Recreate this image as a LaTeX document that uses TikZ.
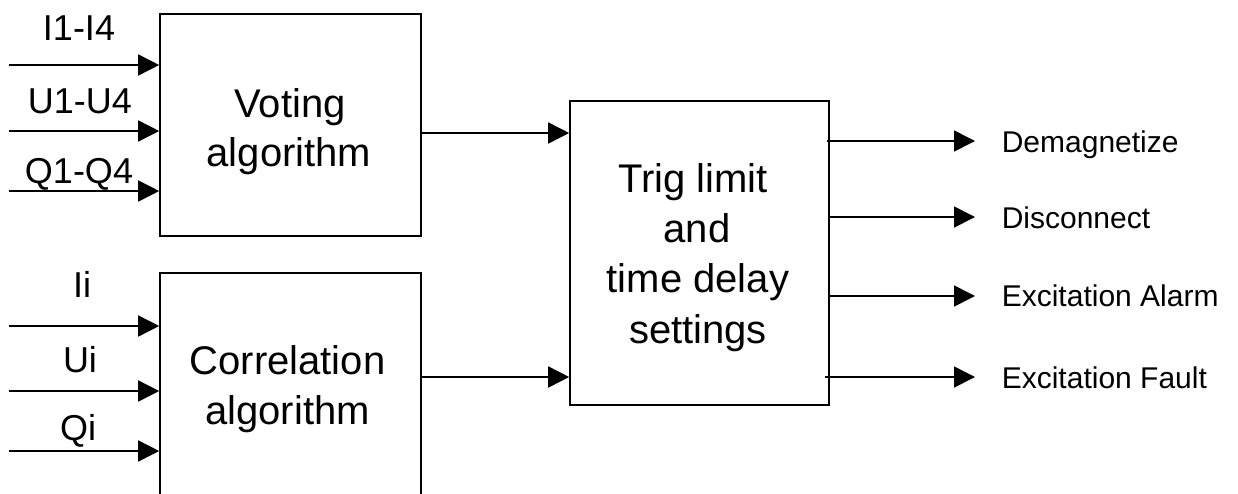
\documentclass[tikz,border=0pt]{standalone}
\usepackage{fontspec}
\setmainfont{Liberation Sans}
\usetikzlibrary{arrows.meta}
\begin{document}
\begin{tikzpicture}[x=1pt,y=-1pt,line width=1.6pt,
  blk/.style={draw, line width=1.6pt, inner sep=0pt},
  bline/.style={anchor=base, inner sep=0pt, font=\fontsize{40}{48}\selectfont},
  arr/.style={-{Triangle[length=21pt,width=21pt]}, line width=1.6pt},
  inlbl/.style={anchor=base, inner sep=0pt, font=\fontsize{36}{42}\selectfont},
  outlbl/.style={anchor=base west, inner sep=0pt, font=\fontsize{30}{36}\selectfont}]
\useasboundingbox (0,0) rectangle (1238,493);
\clip (0,0) rectangle (1238,493);
% blocks
\node[blk, minimum width=261pt, minimum height=222pt] (vote) at (290.5,125) {};
\node[blk, minimum width=261pt, minimum height=226pt] (corr) at (290.5,386) {};
\node[blk, minimum width=259pt, minimum height=304pt] (trig) at (699.5,253) {};
\node[bline] (v1) at (290,117) {Voting};
\node[bline] (v2) at (289,166) {algorithm};
\node[bline] (c1) at (287.5,374) {Correlation};
\node[bline] (c2) at (287.5,424) {algorithm};
\node[bline] (r1) at (693,192) {Trig limit};
\node[bline] (r2) at (697,242) {and};
\node[bline] (r3) at (698,292) {time delay};
\node[bline] (r4) at (698,343) {settings};
% inputs voting
\coordinate (a1) at (9,65);
\coordinate (a2) at (9,131);
\coordinate (a3) at (9,191);
\draw[arr] (a1) -- (a1 -| vote.west);
\draw[arr] (a2) -- (a2 -| vote.west);
\draw[arr] (a3) -- (a3 -| vote.west);
\node[inlbl] (la1) at (79,40) {I1-I4};
\node[inlbl] (la2) at (80,113) {U1-U4};
\node[inlbl] (la3) at (79,183) {Q1-Q4};
% inputs correlation
\coordinate (b1) at (9,326);
\coordinate (b2) at (9,391);
\coordinate (b3) at (9,451);
\draw[arr] (b1) -- (b1 -| corr.west);
\draw[arr] (b2) -- (b2 -| corr.west);
\draw[arr] (b3) -- (b3 -| corr.west);
\node[inlbl] (lb1) at (82,297) {Ii};
\node[inlbl] (lb2) at (80,372) {Ui};
\node[inlbl] (lb3) at (78,440) {Qi};
% block to trig
\coordinate (v) at (421,133);
\coordinate (c) at (421,377);
\draw[arr] (v) -- (v -| trig.west);
\draw[arr] (c) -- (c -| trig.west);
% outputs
\coordinate (o1) at (827,141);
\coordinate (o2) at (830,217);
\coordinate (o3) at (830,296);
\coordinate (o4) at (825,377);
\coordinate (e1) at (975,141);
\coordinate (e2) at (975,217);
\coordinate (e3) at (975,296);
\coordinate (e4) at (975,377);
\draw[arr] (o1) -- (e1);
\draw[arr] (o2) -- (e2);
\draw[arr] (o3) -- (e3);
\draw[arr] (o4) -- (e4);
\node[outlbl] (t1) at (1001,152) {Demagnetize};
\node[outlbl] (t2) at (1001,228) {Disconnect};
\node[outlbl] (t3) at (1001,306) {Excitation Alarm};
\node[outlbl] (t4) at (1001,388) {Excitation Fault};
\end{tikzpicture}
\end{document}
